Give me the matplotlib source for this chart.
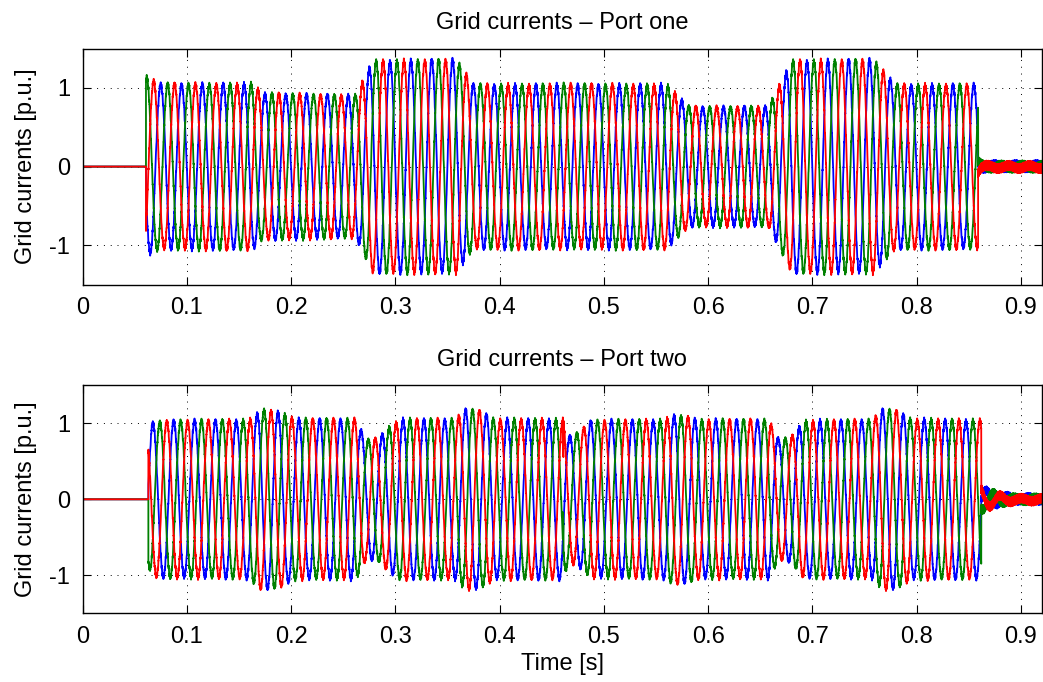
import numpy as np
import matplotlib
matplotlib.use("Agg")
import matplotlib.pyplot as plt

# ---------------- data ----------------
f_grid = 50.0                      # Hz
x_ticks = [0, 0.1, 0.2, 0.3, 0.4, 0.5, 0.6, 0.7, 0.8, 0.9]
y_ticks = [-1, 0, 1]
titles = ["Grid currents \u2013 Port one", "Grid currents \u2013 Port two"]

# Port one: start/stop times, first peak of green phase, peak-amplitude envelope
p1_start, p1_stop, p1_green_peak = 0.0607, 0.859, 0.0615
p1_env_t = [0.0607, 0.064, 0.075, 0.163, 0.172, 0.262, 0.278, 0.358, 0.375,
            0.560, 0.582, 0.658, 0.680, 0.758, 0.780, 0.859]
p1_env_a = [1.13, 1.10, 1.04, 1.04, 0.92, 0.89, 1.33, 1.34, 1.03,
            1.03, 0.75, 0.75, 1.33, 1.34, 1.03, 1.03]
p1_res_t = [0.859, 0.862, 0.870]
p1_res_a = [0.08, 0.03, 0.02]

# Port two
p2_start, p2_stop, p2_green_peak = 0.063, 0.862, 0.074
p2_env_t = [0.063, 0.066, 0.075, 0.160, 0.172, 0.190, 0.205, 0.262, 0.272,
            0.284, 0.296, 0.305, 0.358, 0.368, 0.380, 0.395, 0.461, 0.466,
            0.476, 0.488, 0.558, 0.568, 0.580, 0.590, 0.658, 0.668, 0.680,
            0.692, 0.758, 0.768, 0.780, 0.795, 0.862]
p2_env_a = [0.85, 1.00, 1.02, 1.03, 1.18, 1.13, 1.04, 1.04, 0.78,
            0.80, 0.97, 1.04, 1.04, 1.18, 1.16, 1.04, 1.04, 0.82,
            0.88, 1.02, 1.03, 1.10, 1.08, 1.03, 1.03, 0.78, 0.82,
            1.02, 1.03, 1.18, 1.16, 1.04, 1.03]
p2_res_t = [0.862, 0.868, 0.885, 0.895]
p2_res_a = [0.15, 0.10, 0.04, 0.02]
p2_spike_t = 0.461
p2_spike = {"green": 0.35, "red": -0.45, "blue": 0.0}

ripple_harm = 0.02     # switching ripple amplitude
noise_amp = 0.06       # high-frequency residual band amplitude
phase_colors = {"blue": (0, 0, 1), "green": (0, 0.5, 0), "red": (1, 0, 0)}
phase_delay = {"green": 0.0, "red": 1 / 3, "blue": 2 / 3}   # in periods

t = np.arange(0.0, 0.92, 1e-5)


def port_currents(start, stop, gpeak, env_t, env_a, res_t, res_a,
                  spike_t=None, spike=None):
    w = 2 * np.pi * f_grid
    env = np.interp(t, env_t, env_a)
    res = np.interp(t, res_t, res_a, left=0, right=res_a[-1])
    out = {}
    for k, name in enumerate(["blue", "green", "red"]):
        ph = w * (t - gpeak) - 2 * np.pi * phase_delay[name]
        base = np.cos(ph) + ripple_harm * np.cos(23 * ph + 0.7)
        hf = np.sin(2 * np.pi * 2930 * t + 2.1 * k) + 0.6 * np.sin(2 * np.pi * 4170 * t + 1.3 * k)
        active = (t >= start) & (t < stop)
        after = t >= stop
        y = np.zeros_like(t)
        y[active] = env[active] * base[active] + 0.012 * hf[active]
        y[after] = res[after] * np.cos(ph[after]) + noise_amp * hf[after] / 1.6 - 0.005 * (k - 1)
        if spike_t is not None:
            m = np.abs(t - spike_t) < 0.00025
            y[m] += spike[name]
        out[name] = y
    return out


ports = [
    port_currents(p1_start, p1_stop, p1_green_peak, p1_env_t, p1_env_a, p1_res_t, p1_res_a),
    port_currents(p2_start, p2_stop, p2_green_peak, p2_env_t, p2_env_a, p2_res_t, p2_res_a,
                  p2_spike_t, p2_spike),
]

# ---------------- figure ----------------
plt.rcParams["font.family"] = ["Liberation Sans", "DejaVu Sans"]
plt.rcParams["axes.unicode_minus"] = False
fig = plt.figure(figsize=(10.43, 6.82), dpi=100)
W, H = 1043, 682
rects = [(82.7, 48.5, 1041.7, 284.7), (82.7, 385.3, 1041.7, 613.3)]
fs = 17

for i, (x0, y0, x1, y1) in enumerate(rects):
    ax = fig.add_axes([x0 / W, 1 - y1 / H, (x1 - x0) / W, (y1 - y0) / H])
    cur = ports[i]
    for name in ["blue", "green", "red"]:
        ax.plot(t, cur[name], color=phase_colors[name], lw=1.3)
    ax.set_xlim(0, 0.92)
    ax.set_ylim(-1.5, 1.5)
    ax.set_xticks(x_ticks)
    ax.set_xticklabels([("%g" % v) for v in x_ticks])
    ax.set_yticks(y_ticks)
    ax.tick_params(direction="in", top=True, right=True, length=6, width=0.8,
                   labelsize=fs, pad=9)
    ax.grid(True, color="black", linestyle=(0, (1, 6)), linewidth=0.7)
    for s in ax.spines.values():
        s.set_linewidth(1.0)
    ax.set_title(titles[i], fontsize=fs, pad=14)
    ax.set_ylabel("Grid currents [p.u.]", fontsize=fs, labelpad=9)
    if i == 1:
        ax.set_xlabel("Time [s]", fontsize=fs, labelpad=4)

fig.savefig("out.png", dpi=100)
